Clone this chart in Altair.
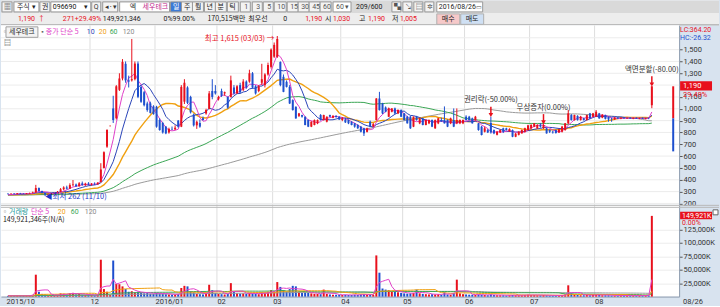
import altair as alt
import pandas as pd
import numpy as np

# ---------------- data ----------------
opens = [282,280,283,279,286,282,280,285,288,292, 330,305,288,275,278,283,290,298,320,335,
         325,355,360,345,370,355,368,360,365,362, 380,500,680,854,1003,920,1160,1256,1380,1240,
         1240,1250,1382,1185,1140,1045,1045,1020,1017,905, 880,849,800,830,826,900,849,1060,1180,1100,
         950,860,880,920,960,1000,1150,1150,1080,1150, 1130,1100,1100,1180,1130,1200,1160,1230,1230,1300,
         1190,1150,1220,1200,1290,1354,1440,1440,1396,1270, 1228,1185,1073,1017,940,947,933,905,849,863,
         877,947,905,891,947,925,940,933,905,910, 905,890,877,863,849,835,805,891,850,905,
         1087,1045,1011,933,975,1003,961,989,961,933, 933,849,933,877,919,863,877,905,835,877,
         905,905,905,877,905,877,877,877,933,933, 919,905,877,849,806,820,880,820,780,800,
         835,835,810,820,764,780,792,806,820,835, 849,835,863,835,835,820,806,820,800,806,
         820,877,947,905,940,905,919,905,961,933, 933,961,925,947,930,915,912,925,918,924,
         920,922,918,923,917,921,916,920,1030]
highs = [286,285,287,288,289,286,287,292,300,357, 335,308,290,282,285,292,305,330,345,350,
         370,398,368,380,385,375,380,372,378,380, 540,640,823,860,1110,1200,1300,1420,1400,1280,
         1590,1400,1400,1200,1150,1060,1060,1030,1025,920, 890,855,840,850,860,905,1200,1250,1190,1110,
         960,900,910,935,1000,1150,1250,1200,1110,1170, 1145,1105,1280,1200,1200,1220,1250,1240,1330,1310,
         1200,1200,1380,1300,1390,1510,1560,1615,1400,1290, 1240,1200,1080,1020,965,950,935,910,895,910,
         910,955,950,935,950,945,945,938,930,925, 910,895,880,870,855,840,840,900,880,1090,
         1143,1050,1020,1010,1005,1010,995,995,965,940, 940,935,940,925,925,910,910,910,910,925,
         925,1020,910,925,1003,1003,910,910,945,940, 925,940,880,855,850,830,933,825,810,825,
         840,840,835,825,795,810,825,840,865,870, 880,870,880,870,840,825,815,825,830,855,
         880,989,955,950,945,940,925,950,965,965, 989,965,955,950,935,925,930,930,928,930,
         928,930,926,928,925,927,924,926,1190]
lows = [276,277,278,277,280,278,278,282,284,290, 300,285,262,268,272,278,286,295,312,318,
        322,345,340,342,350,348,352,350,355,358, 378,495,670,850,880,910,1150,1240,1220,1180,
        1230,1240,1090,1050,1020,975,960,950,840,815, 790,785,790,820,820,840,845,1040,1040,960,
        850,830,840,900,950,995,1080,1120,1070,1100, 1110,1000,1095,1120,1125,1130,1150,1170,1220,1170,
        1120,1140,1200,1180,1280,1340,1430,1430,1190,1140, 1180,1040,985,915,930,925,860,845,845,860,
        870,900,900,885,930,920,925,905,895,880, 870,860,840,830,800,770,800,845,845,900,
        985,955,970,930,970,955,955,930,900,875, 830,845,900,870,860,860,870,845,830,870,
        890,875,845,870,845,870,870,870,900,900, 875,900,815,775,800,795,790,785,775,795,
        795,815,805,760,760,775,790,800,815,830, 845,830,840,830,790,795,790,790,795,800,
        815,870,900,900,900,900,900,900,915,930, 930,915,920,910,891,890,905,915,912,915,
        914,916,912,915,912,914,910,912,1005]
closes = [280,283,279,286,282,280,285,288,292,330, 305,288,275,278,283,290,298,320,335,325,
          355,360,345,370,355,368,360,365,362,375, 487,633,823,855,905,1190,1256,1396,1240,1230,
          1250,1382,1101,1059,1030,989,965,955,849,820, 800,792,830,826,840,849,1185,1220,1050,970,
          860,890,849,905,990,1130,1100,1130,1100,1110, 1140,1010,1240,1130,1190,1140,1230,1180,1300,1180,
          1130,1190,1250,1290,1370,1500,1540,1590,1200,1143, 1185,1045,989,919,961,933,863,849,891,905,
          905,905,947,933,933,940,930,910,920,885, 877,863,849,835,806,792,835,849,870,1087,
          989,961,975,1003,1003,961,989,933,905,877, 835,933,905,919,863,905,905,849,905,919,
          891,877,849,919,849,905,905,905,905,905, 877,933,820,778,835,800,800,792,806,820,
          806,820,830,764,790,806,820,835,860,863, 877,863,849,863,792,806,800,795,826,849,
          877,961,905,947,905,933,905,947,919,961, 975,919,950,915,910,912,925,918,924,920,
          922,918,923,917,921,916,920,919,1190]
volumes_k = [1200,1500,1100,1800,1300,1200,1600,2000,3500,40700,
             9000,5000,4000,2500,2000,2500,3500,6000,5500,4000,
             6500,7000,4000,5000,3500,3000,3500,3000,2500,4000,
             68500,14000,9000,3000,67000,23500,23000,19000,14000,9000,
             10000,8000,9000,7000,6000,7000,5500,5000,7000,6000,
             5500,4500,4000,3500,4000,5000,16000,20000,19000,10000,
             8000,5000,4500,4000,6000,22000,12000,7000,5000,4500,
             4000,5000,25000,9000,6000,5500,6000,5000,7000,6000,
             5000,4500,8000,7000,9000,12000,10000,27000,18000,12000,
             9000,14000,20000,19000,9000,7000,8000,7500,6000,5000,
             5000,4500,13000,5000,4000,3500,3500,3000,3000,3500,
             3000,3000,3500,3000,4000,4500,3000,3500,3000,76500,
             44400,15000,13000,12000,10000,9000,8000,7000,6000,5500,
             6000,7000,13000,6000,5000,4500,4000,4500,4000,4500,
             3500,8000,4000,3500,7000,31500,6000,4500,4000,3500,
             3500,3000,4000,3500,3000,2500,4000,3000,2500,2500,
             2500,2000,2500,3000,2500,2500,2500,3000,3500,3000,
             3000,2500,2500,3000,2500,2000,2000,2000,2000,3000,
             4000,21000,6000,4000,3000,2500,2500,3000,2500,3000,
             3500,3000,2500,2500,2500,2000,2000,1800,2200,1900,
             2100,1700,2000,1800,2300,1900,2000,2200,149921]

ma_start_price = 272
ma_start_volume = 1500

month_grid_idx = [26.5, 47.5, 67.5, 85.5, 107.5, 127.5, 147.5, 168.5, 189.5]
month_tick_idx = [-0.6, 26.5, 47.5, 67.5, 85.5, 107.5, 127.5, 147.5, 168.5, 189.5]
month_labels = ["2015/10", "12", "2016/01", "02", "03", "04", "05", "06", "07", "08"]
price_ticks = [200, 300, 400, 500, 600, 700, 800, 900, 1000, 1100, 1300, 1400, 1500]
price_grid = [200, 300, 400, 500, 600, 700, 800, 900, 1000, 1100, 1200, 1300, 1400, 1500, 1600]
vol_ticks = [25000, 50000, 75000, 100000, 125000]

event_idx = [156, 173, 208]
event_labels = ["권리락(-50.00%)", "무상증자(0.00%)", "액면분할(-80.00)"]

# ---------------- styling ----------------
RED = "#e8101c"
BLUE = "#1d4fce"
FONT = "Noto Sans CJK KR"
NUMF = "Roboto"
MA_COL = {5: "#e040c8", 10: "#2a44b8", 20: "#f0a010", 60: "#3aa654", 120: "#9a9a9a"}
FS = 7.5

W, PH, VH = 680, 180, 92
X0, X1 = -0.64, 215.2
P0, P1 = 188, 1705
VMAX = 170400

n = len(closes)
df = pd.DataFrame({"idx": np.arange(n), "open": opens, "high": highs, "low": lows,
                   "close": closes, "vol": volumes_k})
df["col"] = np.where(df["close"] >= df["open"], RED, BLUE)

xsc = alt.Scale(domain=[X0, X1], nice=False, zero=False)
psc = alt.Scale(domain=[P0, P1], nice=False, zero=False)
vsc = alt.Scale(domain=[0, VMAX], nice=False, zero=False)

PAXIS = alt.Axis(orient="right", values=price_ticks, labelExpr="format(datum.value, ',')",
                 labelFontSize=FS, labelFont=NUMF, labelColor="#333", tickSize=3, tickColor="#555",
                 domainColor="#8e9cae", grid=False, labelPadding=1, title=None, zindex=0)
VAXIS = alt.Axis(orient="right", values=vol_ticks, labelExpr="format(datum.value, ',') + 'K'",
                 labelFontSize=FS, labelFont=NUMF, labelColor="#333", tickSize=3,
                 tickColor="#555", domainColor="#8e9cae", grid=True, gridColor="#ececec",
                 labelPadding=1, title=None, zindex=0)
XAXIS = alt.Axis(values=month_tick_idx, labelAlign="left", labelFontSize=FS, labelFont=NUMF,
                 labelColor="#333", ticks=False, grid=False, domainColor="#8e9cae",
                 labelPadding=1, title=None, labelBaseline="top",
                 labelExpr="[" + ",".join(f"'{m}'" for m in month_labels) + "][indexof(["
                           + ",".join(str(v) for v in month_tick_idx) + "], datum.value)]")


def Xp():
    return alt.X("idx:Q", scale=xsc, axis=None)


def Xv():
    return alt.X("idx:Q", scale=xsc, axis=XAXIS)


def Yp(f):
    return alt.Y(f"{f}:Q", scale=psc, axis=PAXIS)


def Yv(f):
    return alt.Y(f"{f}:Q", scale=vsc, axis=VAXIS)


ONE = pd.DataFrame({"a": [0]})


def txt(px, py, s, color, size=FS, align="left", font=FONT):
    return alt.Chart(ONE).mark_text(align=align, baseline="middle", fontSize=size, color=color,
                                    font=font).encode(
        x=alt.value(px), y=alt.value(py), text=alt.value(s))


def box(x1, y1, x2, y2, fill, stroke=None):
    kw = dict(fill=fill)
    if stroke:
        kw.update(stroke=stroke, strokeWidth=1)
    return alt.Chart(ONE).mark_rect(**kw).encode(
        x=alt.value(x1), x2=alt.value(x2), y=alt.value(y1), y2=alt.value(y2))


# ---------------- header ----------------
hdr = [box(0, 0, 720, 12.5, "#d9d9d9"), box(0, 12.5, 720, 25, "#ededed"),
       alt.Chart(ONE).mark_rule(color="#a0a0a0").encode(x=alt.value(0), x2=alt.value(720), y=alt.value(24.5))]
GB = "#f3f3f3"
ST = "#9a9a9a"
for (a, b, f) in [(1, 11, GB), (13, 38, "#ffffff"), (39, 49, GB), (50, 90, "#ffffff"), (91, 100, GB),
                  (102, 117, GB), (119, 169, "#ffffff"), (170, 181, "#3c7ad6"), (181, 192, GB),
                  (192, 203, GB), (204, 215, GB), (215, 226, GB), (227, 238, GB),
                  (240, 250, GB), (252, 262, GB), (263, 273, GB), (274, 286, GB), (287, 298, GB),
                  (298, 309, GB), (309, 320, GB), (320, 331, GB), (333, 351, "#ffffff"),
                  (392, 401, GB), (403, 412, GB), (414, 423, GB), (425, 434, GB), (437, 483, "#ffffff")]:
    hdr.append(box(a, 1.5, b, 11.5, f, ST))
K = [(3, "▦", "#444"), (16, "주식", "#222"), (31, "▾", "#222"), (41, "권", "#222"),
     (129, "엑", "#333"), (142, "세우테크", "#c0208a"), (172.5, "일", "#ffffff"),
     (183.5, "주", "#222"), (194.5, "월", "#222"), (206, "년", "#222"), (217, "분", "#222"),
     (229, "틱", "#222"), (345, "▾", "#555"), (394, "▚", "#555"), (405, "↘", "#555"),
     (416, "▤", "#555"), (427, "✲", "#555"), (83, "▾", "#222"), (104, "◂·▾", "#333")]
for (px, s, c) in K:
    hdr.append(txt(px, 6.5, s, c, size=7))
Nn = [(52, "096690", "#111"), (93, "Q", "#333"), (244, "1", "#555"), (256, "3", "#555"),
      (267, "5", "#555"), (277, "10", "#555"), (290, "15", "#555"), (301, "30", "#555"),
      (312, "45", "#555"), (323, "60", "#555"), (336, "60", "#555"), (356, "209/600", "#222"),
      (439, "2016/08/26", "#222")]
for (px, s, c) in Nn:
    hdr.append(txt(px, 6.5, s, c, size=7, font=NUMF))
hdr.append(txt(476, 6.5, "▭", "#555", size=6))
hdr += [box(437, 13.5, 460, 24, "#f6c9c9", "#b0b0b0"), box(461, 13.5, 484, 24, "#cfe0f4", "#b0b0b0")]
R2n = [(17, "1,190", RED), (62, "271", RED), (74, "+29.49%", RED),
       (102, "149,921,346", "#222"), (163, "0%", "#222"), (172, "99.00%", "#222"),
       (283, "0", "#222"), (305, "1,190", RED), (333, "1,030", RED),
       (368, "1,190", RED), (400, "1,005", RED)]
for (px, s, c) in R2n:
    hdr.append(txt(px, 18.5, s, c, size=7, font=NUMF))
R2k = [(37, "↑", RED), (207, "170,515백만", "#222"), (248, "최우선", "#222"), (325, "시", "#222"),
       (359, "고", "#222"), (392, "저", "#222"), (442, "매수", "#222"), (466, "매도", "#222")]
for (px, s, c) in R2k:
    hdr.append(txt(px, 18.5, s, c, size=7))
header = alt.layer(*hdr).properties(width=720, height=25)

# ---------------- price panel ----------------
base = alt.Chart(df)
grid_v = alt.Chart(pd.DataFrame({"idx": month_grid_idx})).mark_rule(color="#dedede").encode(x=Xp())
grid_h = alt.Chart(pd.DataFrame({"p": price_grid})).mark_rule(color="#ececec").encode(y=Yp("p"))
wicks = base.mark_rule(strokeWidth=1).encode(
    x=Xp(), y=Yp("low"), y2="high:Q", color=alt.Color("col:N", scale=None))
bodies = base.mark_bar(size=2).encode(
    x=Xp(), y=Yp("open"), y2="close:Q", color=alt.Color("col:N", scale=None))


def ma(field, k, color, xf, yf, start, width=1.0):
    # simple moving average; days before the first shown candle count at the starting level
    return base.transform_window(s=f"sum({field})", c="count()", frame=[-(k - 1), 0],
                                 sort=[alt.SortField("idx")]) \
        .transform_calculate(m=f"(datum.s + ({k} - datum.c) * {start}) / {k}") \
        .mark_line(color=color, strokeWidth=width).encode(x=xf(), y=yf("m"))


p_ma = [ma("close", 120, MA_COL[120], Xp, Yp, ma_start_price),
        ma("close", 60, MA_COL[60], Xp, Yp, ma_start_price),
        ma("close", 20, MA_COL[20], Xp, Yp, ma_start_price, 1.4),
        ma("close", 10, MA_COL[10], Xp, Yp, ma_start_price),
        ma("close", 5, MA_COL[5], Xp, Yp, ma_start_price)]

hi_i = int(np.argmax(highs))
lo_i = int(np.argmin(lows))
ann_hi = alt.Chart(pd.DataFrame({"idx": [hi_i], "p": [highs[hi_i]],
                                 "t": [f"최고 {highs[hi_i]:,} (03/03) →"]})).mark_text(
    align="right", baseline="middle", dx=-3, dy=3, fontSize=FS, font=FONT, color=RED).encode(
    x=Xp(), y=Yp("p"), text="t:N")
ann_lo = alt.Chart(pd.DataFrame({"idx": [lo_i], "p": [lows[lo_i]],
                                 "t": [f"◀최저 {lows[lo_i]:,} (11/10)"]})).mark_text(
    align="left", baseline="middle", dx=0, dy=1, fontSize=FS, font=FONT, color="#1c34c8").encode(
    x=Xp(), y=Yp("p"), text="t:N")

ev = pd.DataFrame({"idx": event_idx, "t": event_labels})
ev["h"] = [highs[i] for i in event_idx]
ev["ptext"] = ev["h"] + 140
ev["ptop"] = ev["h"] + 85
ev["pbot"] = ev["h"] + 15
ev_text = alt.Chart(ev).mark_text(align="center", baseline="middle", fontSize=FS, font=FONT,
                                   color="#333").encode(x=Xp(), y=Yp("ptext"), text="t:N")
ev_rule = alt.Chart(ev).mark_rule(color=RED, strokeWidth=1.5).encode(x=Xp(), y=Yp("ptop"), y2="pbot:Q")
ev_head = alt.Chart(ev).mark_point(shape="triangle-down", filled=True, color=RED, size=22, opacity=1).encode(
    x=Xp(), y=Yp("pbot"))

cur = closes[-1]
prev = closes[-2]
rng = pd.DataFrame({"idx": [214.9, 214.9], "a": [cur, prev], "b": [prev, 640], "c": [RED, BLUE]})
rng_bar = alt.Chart(rng).mark_rule(strokeWidth=2).encode(
    x=Xp(), y=Yp("a"), y2="b:Q", color=alt.Color("c:N", scale=None))

tag = pd.DataFrame({"p1": [cur + 42], "p2": [cur - 36], "p": [cur], "t": [f"{cur:,}"],
                    "pp": [cur - 70], "r": ["29.49%"]})
tag_box = alt.Chart(tag).mark_rect(color=RED).encode(
    x=alt.value(681), x2=alt.value(713), y=Yp("p1"), y2="p2:Q")
tag_txt = alt.Chart(tag).mark_text(align="left", baseline="middle", fontSize=FS, font=NUMF,
                                   color="white").encode(x=alt.value(684), y=Yp("p"), text="t:N")
tag_pct = alt.Chart(tag).mark_text(align="left", baseline="middle", fontSize=FS, font=NUMF,
                                   color=RED).encode(x=alt.value(684), y=Yp("pp"), text="r:N")

legend_p = [txt(0.5, 7, "▫", "#666", 7), box(5, 1.5, 37, 12, "#f4f4f4", "#a0a0a0"),
            txt(8, 7, "세우테크", "#222", 7), txt(38.5, 7, "▪", "#666", 6),
            txt(45, 7, "종가 단순 5", MA_COL[5], 7), txt(86, 7, "10", MA_COL[10], 7, font=NUMF),
            txt(98, 7, "20", MA_COL[20], 7, font=NUMF), txt(109, 7, "60", MA_COL[60], 7, font=NUMF),
            txt(122, 7, "120", "#888", 7, font=NUMF), txt(3, 17.5, "▤", "#333", 7),
            txt(681, 4.5, "LC:364.20", RED, 7, font=NUMF), txt(681, 12.5, "HC:-26.32", BLUE, 7, font=NUMF)]

price = alt.layer(grid_v, grid_h, *p_ma, wicks, bodies, ann_hi, ann_lo, ev_text, ev_rule, ev_head,
                  rng_bar, tag_box, tag_txt, tag_pct, *legend_p).properties(width=W, height=PH)

# ---------------- volume panel ----------------
vgrid_v = alt.Chart(pd.DataFrame({"idx": month_grid_idx})).mark_rule(color="#dedede").encode(x=Xv())
vbars = base.mark_bar(size=2).encode(
    x=Xv(), y=Yv("vol"), y2=alt.datum(0), color=alt.Color("col:N", scale=None))
v_ma = [ma("vol", 120, MA_COL[120], Xv, Yv, ma_start_volume),
        ma("vol", 60, MA_COL[60], Xv, Yv, ma_start_volume),
        ma("vol", 20, MA_COL[20], Xv, Yv, ma_start_volume),
        ma("vol", 5, MA_COL[5], Xv, Yv, ma_start_volume)]
sep = [alt.Chart(ONE).mark_rule(color="#b8b8b8").encode(x=alt.value(0), x2=alt.value(720), y=alt.value(0.5)),
       alt.Chart(ONE).mark_rule(color="#b8b8b8").encode(x=alt.value(0), x2=alt.value(720), y=alt.value(2.5))]
vtag = [box(681, 7, 713, 14.5, RED), txt(683, 10.8, "149,921K", "white", 7, font=NUMF),
        txt(683, 18, "0.00%", RED, 7, font=NUMF), box(714, 5, 719, 10, "#ffffff", "#666")]
legend_v = [txt(0.5, 7, "▫", "#666", 7), txt(8, 7, "거래량", "#1a9a9a", 7),
            txt(30, 7, "단순 5", MA_COL[5], 7), txt(57, 7, "20", MA_COL[20], 7, font=NUMF),
            txt(70, 7, "60", MA_COL[60], 7, font=NUMF), txt(84, 7, "120", "#888", 7, font=NUMF),
            txt(2, 15.5, "149,921,346주(N/A)", "#222", 7),
            txt(684, 97, "08/26", "#333", FS, font=NUMF)]
volume = alt.layer(vgrid_v, vbars, *v_ma, *sep, *vtag, *legend_v).properties(width=W, height=VH)

chart = alt.vconcat(header, price, volume, spacing=0, bounds="flush").properties(
    padding=0, background="#d8e3ef").configure_view(strokeWidth=0, fill="white").configure_concat(spacing=0)

chart.save("out.html", embed_options={"renderer": "svg", "actions": False})
